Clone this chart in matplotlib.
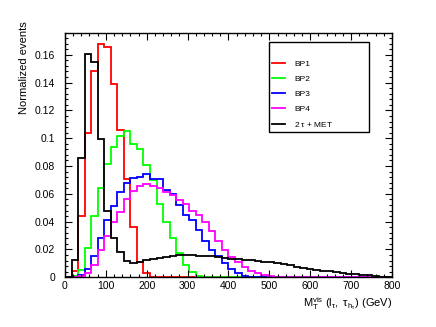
import numpy as np
import matplotlib
matplotlib.use("Agg")
import matplotlib.pyplot as plt
from matplotlib.ticker import MultipleLocator
from matplotlib.lines import Line2D

plt.rcParams['font.family'] = ['Liberation Sans', 'DejaVu Sans']
plt.rcParams['mathtext.fontset'] = 'custom'
plt.rcParams['mathtext.rm'] = 'Liberation Sans'
plt.rcParams['mathtext.it'] = 'Liberation Sans:italic'

# 50 bins of 16 GeV from 0 to 800
bin_edges = np.linspace(0, 800, 51)

bp1 = [0, 0.0045, 0.044, 0.104, 0.148, 0.1675, 0.1655, 0.139, 0.1057, 0.071,
       0.036, 0.011, 0.003] + [0.0] * 37

bp2 = [0, 0.001, 0.005, 0.0208, 0.0442, 0.0639, 0.0818, 0.094, 0.1014, 0.105,
       0.0955, 0.0919, 0.0806, 0.070, 0.053, 0.040, 0.028, 0.0175, 0.009, 0.0035,
       0.001] + [0.0] * 29

bp3 = [0, 0, 0.002, 0.006, 0.015, 0.028, 0.041, 0.0515, 0.061, 0.068,
       0.0713, 0.0718, 0.0745, 0.0705, 0.071, 0.063, 0.060, 0.0519, 0.0445, 0.041,
       0.034, 0.026, 0.0196, 0.015, 0.010, 0.0057, 0.0029, 0.001, 0.0004] + [0.0] * 21

bp4 = [0, 0, 0.001, 0.003, 0.009, 0.0196, 0.030, 0.040, 0.047, 0.056,
       0.062, 0.066, 0.067, 0.066, 0.064, 0.0615, 0.059, 0.0555, 0.053, 0.048,
       0.0447, 0.040, 0.033, 0.026, 0.0196, 0.0144, 0.0112, 0.0076, 0.0048, 0.003,
       0.0017, 0.001, 0.0005] + [0.0] * 17

bkg = [0, 0.0124, 0.086, 0.1605, 0.1545, 0.0998, 0.0478, 0.0284, 0.018, 0.012,
       0.010, 0.0112, 0.0125, 0.0135, 0.0140, 0.0145, 0.0150, 0.0160, 0.0158, 0.0160,
       0.0155, 0.0150, 0.0150, 0.0143, 0.0138, 0.0134, 0.0130, 0.0127, 0.0122, 0.0118,
       0.0112, 0.0107, 0.0100, 0.0093, 0.0085, 0.0075, 0.0070, 0.0060, 0.0054, 0.0047,
       0.0042, 0.0037, 0.0031, 0.0027, 0.0021, 0.0016, 0.0013, 0.0008, 0.0005, 0.0002]

series = [bp1, bp2, bp3, bp4, bkg]
labels = ['BP1', 'BP2', 'BP3', 'BP4', r'2 $\mathrm{τ}$ + MET']
colors = ['#ff0000', '#00ff00', '#0000ff', '#ff00ff', '#000000']

fig = plt.figure(figsize=(4.36, 3.27), dpi=100)
ax = fig.add_axes([0.149, 0.152, 0.750, 0.748])

for vals, c in zip(series, colors):
    ax.stairs(vals, bin_edges, color=c, lw=1.3, baseline=0)

ax.set_xlim(0, 800)
ax.set_ylim(0, 1.05 * max(bp1))

ax.xaxis.set_major_locator(MultipleLocator(100))
ax.xaxis.set_minor_locator(MultipleLocator(20))
ax.yaxis.set_major_locator(MultipleLocator(0.02))
ax.yaxis.set_minor_locator(MultipleLocator(0.004))
ax.yaxis.set_major_formatter(matplotlib.ticker.FuncFormatter(lambda v, p: ('%g' % round(v, 4))))

ax.tick_params(which='both', direction='in', top=True, right=True, labelsize=7.5, width=0.8)
ax.tick_params(which='major', length=4.7)
ax.tick_params(which='minor', length=2.4)
ax.tick_params(axis='x', pad=3)
ax.tick_params(axis='y', pad=7)
for s in ax.spines.values():
    s.set_linewidth(1.0)

fig.text(24 / 436, 1 - 21 / 327, 'Normalized events', rotation=90, ha='center', va='top', fontsize=8)
fig.text(392 / 436, 1 - 304 / 327,
         r'$\mathrm{M_T^{vis}\ (l_{τ},\ τ_{h_{τ}})\ (GeV)}$',
         ha='right', va='center', fontsize=8)

handles = [Line2D([], [], color='none')] + [Line2D([], [], color=c, lw=1.3) for c in colors]
leg = fig.legend(handles, [' '] + labels, loc='upper left',
                 bbox_to_anchor=(269 / 436, 1 - 42 / 327, 100 / 436, 0),
                 mode='expand', borderaxespad=0, fontsize=6, frameon=True,
                 fancybox=False, edgecolor='black', framealpha=1,
                 handlelength=1.5, handletextpad=1.1, labelspacing=0.85, borderpad=0.4)
leg.get_frame().set_linewidth(1.0)

fig.savefig('out.png', dpi=100)
